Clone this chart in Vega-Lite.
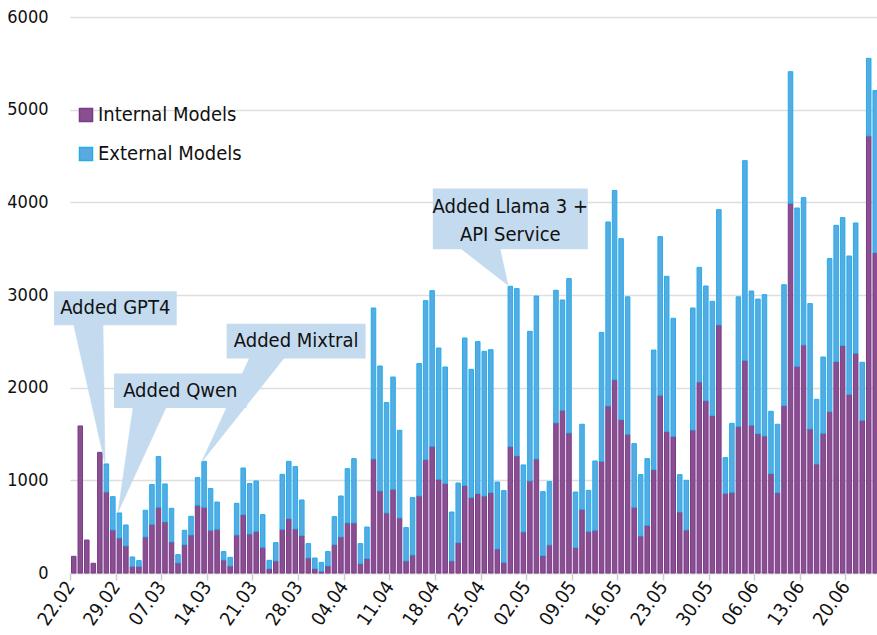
{
"$schema": "https://vega.github.io/schema/vega-lite/v6.json",
"width": 808, "height": 556,
"autosize": {"type": "none"},
"padding": {"left": 70, "top": 17, "right": 0, "bottom": 62},
"background": "white",
"config": {
  "font": "DejaVu Sans Condensed, sans-serif",
  "view": {"stroke": null}
},
"datasets": {
"daily": [
{"date":"2024-02-22","Internal Models":180,"External Models":0},
{"date":"2024-02-23","Internal Models":1587,"External Models":0},
{"date":"2024-02-24","Internal Models":356,"External Models":0},
{"date":"2024-02-25","Internal Models":105,"External Models":0},
{"date":"2024-02-26","Internal Models":1302,"External Models":0},
{"date":"2024-02-27","Internal Models":874,"External Models":303},
{"date":"2024-02-28","Internal Models":464,"External Models":360},
{"date":"2024-02-29","Internal Models":378,"External Models":270},
{"date":"2024-03-01","Internal Models":292,"External Models":226},
{"date":"2024-03-02","Internal Models":72,"External Models":101},
{"date":"2024-03-03","Internal Models":72,"External Models":62},
{"date":"2024-03-04","Internal Models":389,"External Models":288},
{"date":"2024-03-05","Internal Models":525,"External Models":429},
{"date":"2024-03-06","Internal Models":709,"External Models":547},
{"date":"2024-03-07","Internal Models":551,"External Models":410},
{"date":"2024-03-08","Internal Models":335,"External Models":363},
{"date":"2024-03-09","Internal Models":108,"External Models":90},
{"date":"2024-03-10","Internal Models":306,"External Models":155},
{"date":"2024-03-11","Internal Models":410,"External Models":202},
{"date":"2024-03-12","Internal Models":731,"External Models":298},
{"date":"2024-03-13","Internal Models":709,"External Models":496},
{"date":"2024-03-14","Internal Models":461,"External Models":450},
{"date":"2024-03-15","Internal Models":472,"External Models":294},
{"date":"2024-03-16","Internal Models":140,"External Models":91},
{"date":"2024-03-17","Internal Models":76,"External Models":93},
{"date":"2024-03-18","Internal Models":410,"External Models":342},
{"date":"2024-03-19","Internal Models":630,"External Models":503},
{"date":"2024-03-20","Internal Models":421,"External Models":544},
{"date":"2024-03-21","Internal Models":450,"External Models":543},
{"date":"2024-03-22","Internal Models":277,"External Models":353},
{"date":"2024-03-23","Internal Models":47,"External Models":90},
{"date":"2024-03-24","Internal Models":130,"External Models":198},
{"date":"2024-03-25","Internal Models":472,"External Models":593},
{"date":"2024-03-26","Internal Models":587,"External Models":618},
{"date":"2024-03-27","Internal Models":475,"External Models":673},
{"date":"2024-03-28","Internal Models":403,"External Models":385},
{"date":"2024-03-29","Internal Models":162,"External Models":155},
{"date":"2024-03-30","Internal Models":47,"External Models":115},
{"date":"2024-03-31","Internal Models":18,"External Models":97},
{"date":"2024-04-01","Internal Models":76,"External Models":155},
{"date":"2024-04-02","Internal Models":306,"External Models":302},
{"date":"2024-04-03","Internal Models":389,"External Models":442},
{"date":"2024-04-04","Internal Models":540,"External Models":586},
{"date":"2024-04-05","Internal Models":540,"External Models":694},
{"date":"2024-04-06","Internal Models":101,"External Models":216},
{"date":"2024-04-07","Internal Models":155,"External Models":341},
{"date":"2024-04-08","Internal Models":1230,"External Models":1630},
{"date":"2024-04-09","Internal Models":885,"External Models":1349},
{"date":"2024-04-10","Internal Models":648,"External Models":1191},
{"date":"2024-04-11","Internal Models":903,"External Models":1212},
{"date":"2024-04-12","Internal Models":594,"External Models":946},
{"date":"2024-04-13","Internal Models":130,"External Models":360},
{"date":"2024-04-14","Internal Models":194,"External Models":620},
{"date":"2024-04-15","Internal Models":831,"External Models":1429},
{"date":"2024-04-16","Internal Models":1224,"External Models":1715},
{"date":"2024-04-17","Internal Models":1367,"External Models":1680},
{"date":"2024-04-18","Internal Models":1011,"External Models":1417},
{"date":"2024-04-19","Internal Models":965,"External Models":1258},
{"date":"2024-04-20","Internal Models":130,"External Models":528},
{"date":"2024-04-21","Internal Models":328,"External Models":643},
{"date":"2024-04-22","Internal Models":943,"External Models":1593},
{"date":"2024-04-23","Internal Models":814,"External Models":1384},
{"date":"2024-04-24","Internal Models":857,"External Models":1640},
{"date":"2024-04-25","Internal Models":831,"External Models":1561},
{"date":"2024-04-26","Internal Models":867,"External Models":1543},
{"date":"2024-04-27","Internal Models":259,"External Models":723},
{"date":"2024-04-28","Internal Models":115,"External Models":774},
{"date":"2024-04-29","Internal Models":1364,"External Models":1730},
{"date":"2024-04-30","Internal Models":1263,"External Models":1806},
{"date":"2024-05-01","Internal Models":443,"External Models":723},
{"date":"2024-05-02","Internal Models":993,"External Models":1615},
{"date":"2024-05-03","Internal Models":1230,"External Models":1759},
{"date":"2024-05-04","Internal Models":188,"External Models":690},
{"date":"2024-05-05","Internal Models":302,"External Models":684},
{"date":"2024-05-06","Internal Models":1619,"External Models":1432},
{"date":"2024-05-07","Internal Models":1756,"External Models":1190},
{"date":"2024-05-08","Internal Models":1511,"External Models":1666},
{"date":"2024-05-09","Internal Models":274,"External Models":600},
{"date":"2024-05-10","Internal Models":687,"External Models":918},
{"date":"2024-05-11","Internal Models":447,"External Models":445},
{"date":"2024-05-12","Internal Models":461,"External Models":748},
{"date":"2024-05-13","Internal Models":1205,"External Models":1392},
{"date":"2024-05-14","Internal Models":1802,"External Models":1986},
{"date":"2024-05-15","Internal Models":2085,"External Models":2043},
{"date":"2024-05-16","Internal Models":1655,"External Models":1953},
{"date":"2024-05-17","Internal Models":1497,"External Models":1483},
{"date":"2024-05-18","Internal Models":709,"External Models":687},
{"date":"2024-05-19","Internal Models":399,"External Models":663},
{"date":"2024-05-20","Internal Models":515,"External Models":719},
{"date":"2024-05-21","Internal Models":1116,"External Models":1290},
{"date":"2024-05-22","Internal Models":1918,"External Models":1712},
{"date":"2024-05-23","Internal Models":1526,"External Models":1676},
{"date":"2024-05-24","Internal Models":1475,"External Models":1274},
{"date":"2024-05-25","Internal Models":658,"External Models":404},
{"date":"2024-05-26","Internal Models":464,"External Models":536},
{"date":"2024-05-27","Internal Models":1543,"External Models":1317},
{"date":"2024-05-28","Internal Models":2061,"External Models":1237},
{"date":"2024-05-29","Internal Models":1860,"External Models":1237},
{"date":"2024-05-30","Internal Models":1698,"External Models":1234},
{"date":"2024-05-31","Internal Models":2676,"External Models":1245},
{"date":"2024-06-01","Internal Models":860,"External Models":385},
{"date":"2024-06-02","Internal Models":871,"External Models":744},
{"date":"2024-06-03","Internal Models":1580,"External Models":1400},
{"date":"2024-06-04","Internal Models":2295,"External Models":2155},
{"date":"2024-06-05","Internal Models":1594,"External Models":1449},
{"date":"2024-06-06","Internal Models":1504,"External Models":1452},
{"date":"2024-06-07","Internal Models":1478,"External Models":1526},
{"date":"2024-06-08","Internal Models":1072,"External Models":673},
{"date":"2024-06-09","Internal Models":867,"External Models":738},
{"date":"2024-06-10","Internal Models":1806,"External Models":1305},
{"date":"2024-06-11","Internal Models":3989,"External Models":1421},
{"date":"2024-06-12","Internal Models":2230,"External Models":1709},
{"date":"2024-06-13","Internal Models":2460,"External Models":1591},
{"date":"2024-06-14","Internal Models":1554,"External Models":1353},
{"date":"2024-06-15","Internal Models":1176,"External Models":698},
{"date":"2024-06-16","Internal Models":1507,"External Models":824},
{"date":"2024-06-17","Internal Models":1741,"External Models":1652},
{"date":"2024-06-18","Internal Models":2281,"External Models":1471},
{"date":"2024-06-19","Internal Models":2454,"External Models":1381},
{"date":"2024-06-20","Internal Models":1928,"External Models":1493},
{"date":"2024-06-21","Internal Models":2371,"External Models":1406},
{"date":"2024-06-22","Internal Models":1648,"External Models":626},
{"date":"2024-06-23","Internal Models":4716,"External Models":838},
{"date":"2024-06-24","Internal Models":3457,"External Models":1749}
],
"boxes": [
{"id":"gpt4","t1":"2024-02-19T13:00:00Z","t2":"2024-03-09T09:00:00Z","v1":2673,"v2":3040},
{"id":"qwen","t1":"2024-02-28T18:00:00Z","t2":"2024-03-20T02:24:00Z","v1":1780,"v2":2152},
{"id":"mixtral","t1":"2024-03-17T01:00:00Z","t2":"2024-04-07T08:38:00Z","v1":2314,"v2":2691},
{"id":"llama","t1":"2024-04-17T16:19:00Z","t2":"2024-05-11T11:00:00Z","v1":3493,"v2":4148}
],
"pointers": [
{"id":"gpt4","o":1,"t":"2024-02-22T12:00:00Z","v":2700},
{"id":"gpt4","o":2,"t":"2024-02-27T09:00:00Z","v":1183},
{"id":"gpt4","o":3,"t":"2024-02-27T01:30:00Z","v":2700},
{"id":"qwen","o":1,"t":"2024-03-02T17:00:00Z","v":1800},
{"id":"qwen","o":2,"t":"2024-02-29T08:38:00Z","v":655},
{"id":"qwen","o":3,"t":"2024-03-07T20:00:00Z","v":1800},
{"id":"mixtral","o":1,"t":"2024-03-20T14:38:00Z","v":2330},
{"id":"mixtral","o":2,"t":"2024-03-13T04:48:00Z","v":1198},
{"id":"mixtral","o":3,"t":"2024-03-25T23:30:00Z","v":2330},
{"id":"llama","o":1,"t":"2024-04-21T19:55:00Z","v":3510},
{"id":"llama","o":2,"t":"2024-04-29T05:31:00Z","v":3104},
{"id":"llama","o":3,"t":"2024-04-27T23:02:00Z","v":3510}
],
"labels": [
{"label":"Added GPT4","t":"2024-02-28T22:48:00Z","v":2856},
{"label":"Added Qwen","t":"2024-03-09T22:19:00Z","v":1966},
{"label":"Added Mixtral","t":"2024-03-27T16:48:00Z","v":2502},
{"label":"Added Llama 3 +","t":"2024-04-29T13:41:00Z","v":3946},
{"label":"API Service","t":"2024-04-29T13:41:00Z","v":3644}
]
},
"layer": [
{
  "data": {"name": "daily"},
  "transform": [
    {"fold": ["Internal Models", "External Models"], "as": ["type", "count"]},
    {"filter": "datum.count > 0"}
  ],
  "mark": {"type": "bar", "binSpacing": 2, "strokeWidth": 1},
  "encoding": {
    "x": {"field": "date", "type": "temporal", "timeUnit": "utcyearmonthdate",
      "scale": {"type": "utc", "nice": false,
        "domain": [{"year":2024,"month":2,"date":22,"utc":true},{"year":2024,"month":6,"date":25,"utc":true}]},
      "axis": {"title": null, "grid": false,
        "values": [
          {"year":2024,"month":2,"date":22,"utc":true},{"year":2024,"month":2,"date":29,"utc":true},
          {"year":2024,"month":3,"date":7,"utc":true},{"year":2024,"month":3,"date":14,"utc":true},
          {"year":2024,"month":3,"date":21,"utc":true},{"year":2024,"month":3,"date":28,"utc":true},
          {"year":2024,"month":4,"date":4,"utc":true},{"year":2024,"month":4,"date":11,"utc":true},
          {"year":2024,"month":4,"date":18,"utc":true},{"year":2024,"month":4,"date":25,"utc":true},
          {"year":2024,"month":5,"date":2,"utc":true},{"year":2024,"month":5,"date":9,"utc":true},
          {"year":2024,"month":5,"date":16,"utc":true},{"year":2024,"month":5,"date":23,"utc":true},
          {"year":2024,"month":5,"date":30,"utc":true},{"year":2024,"month":6,"date":6,"utc":true},
          {"year":2024,"month":6,"date":13,"utc":true},{"year":2024,"month":6,"date":20,"utc":true}
        ],
        "labelExpr": "utcFormat(datum.value, '%d.%m')",
        "labelAngle": -55, "labelFontSize": 19, "labelColor": "#111111",
        "labelFont": "DejaVu Sans Condensed, sans-serif",
        "labelPadding": 3, "labelOverlap": false,
        "domainColor": "#d4d4d4", "domainWidth": 1.5,
        "tickColor": "#cfcfcf", "tickSize": 7, "tickWidth": 1.5}
    },
    "y": {"field": "count", "type": "quantitative", "stack": "zero",
      "scale": {"domain": [0, 6000], "nice": false},
      "axis": {"title": null, "values": [0,1000,2000,3000,4000,5000,6000], "format": "d",
        "domain": false, "ticks": false, "labelPadding": 22,
        "labelFontSize": 18, "labelColor": "#111111",
        "labelFont": "DejaVu Sans Condensed, sans-serif",
        "gridColor": "#dedede", "gridWidth": 1.5}
    },
    "fill": {"field": "type", "type": "nominal",
      "scale": {"domain": ["Internal Models", "External Models"], "range": ["#8a4f8e", "#5aa9e0"]},
      "legend": {"title": null, "orient": "none", "legendX": 6, "legendY": 88,
        "symbolType": "square", "symbolSize": 169, "symbolStrokeWidth": 1.5,
        "labelFontSize": 20, "labelColor": "#111111", "labelOffset": 2, "rowPadding": 19,
        "labelFont": "DejaVu Sans Condensed, sans-serif"}},
    "stroke": {"field": "type", "type": "nominal",
      "scale": {"domain": ["Internal Models", "External Models"], "range": ["#7a3a8c", "#1cb0ee"]},
      "legend": {"title": null, "orient": "none", "legendX": 6, "legendY": 88,
        "symbolType": "square", "symbolSize": 169, "symbolStrokeWidth": 1.5,
        "labelFontSize": 20, "labelColor": "#111111", "labelOffset": 2, "rowPadding": 19,
        "labelFont": "DejaVu Sans Condensed, sans-serif"}},
    "order": {"field": "type", "sort": "descending"}
  }
},
{
  "data": {"name": "pointers"},
  "mark": {"type": "line", "fill": "#c3daef", "stroke": "#c3daef", "strokeWidth": 0.5, "interpolate": "linear"},
  "encoding": {
    "x": {"field": "t", "type": "temporal"},
    "y": {"field": "v", "type": "quantitative"},
    "detail": {"field": "id"},
    "order": {"field": "o", "type": "quantitative"}
  }
},
{
  "data": {"name": "boxes"},
  "mark": {"type": "rect", "fill": "#c3daef"},
  "encoding": {
    "x": {"field": "t1", "type": "temporal"},
    "x2": {"field": "t2"},
    "y": {"field": "v1", "type": "quantitative"},
    "y2": {"field": "v2"}
  }
},
{
  "data": {"name": "labels"},
  "mark": {"type": "text", "fontSize": 20, "color": "#111111", "align": "center", "baseline": "middle",
    "font": "DejaVu Sans Condensed, sans-serif"},
  "encoding": {
    "x": {"field": "t", "type": "temporal"},
    "y": {"field": "v", "type": "quantitative"},
    "text": {"field": "label"}
  }
}
]
}
